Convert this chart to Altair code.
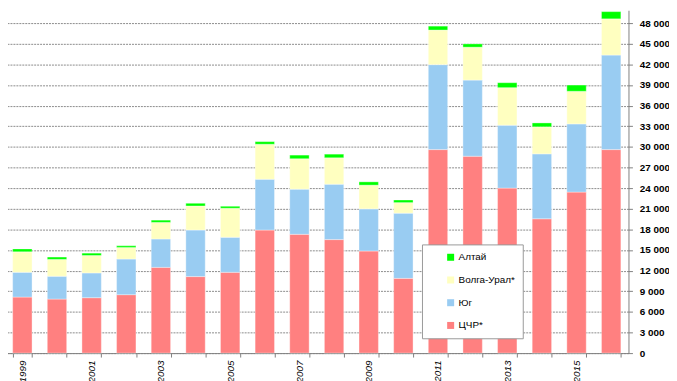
import altair as alt
import pandas as pd

years = list(range(1999, 2017))
series = ["ЦЧР*", "Юг", "Волга-Урал*", "Алтай"]
cchr = [8150, 7860, 8060, 8500, 12470, 11130, 11750, 17900, 17280, 16510, 14850, 10870, 29600, 28640, 24000, 19540, 23420, 29600]
yug = [3600, 3320, 3600, 5180, 4130, 6770, 5100, 7390, 6570, 8060, 6130, 9490, 12360, 11070, 9150, 9440, 9920, 13750]
volga = [2980, 2450, 2540, 1670, 2410, 3500, 4220, 5090, 4420, 3840, 3450, 1530, 5030, 4790, 5460, 3930, 4740, 5270]
altai = [430, 340, 340, 250, 330, 390, 290, 380, 530, 530, 480, 380, 570, 480, 720, 570, 910, 1050]
colors = ["#FF8080", "#99CCF2", "#FFFFC0", "#00FF00"]
y_ticks = list(range(0, 48001, 3000))

rows = []
for vals, name, order in zip([cchr, yug, volga, altai], series, range(4)):
    for yr, v in zip(years, vals):
        rows.append({"year": str(yr), "series": name, "value": v, "ord": order})
df = pd.DataFrame(rows)

chart = alt.Chart(df).mark_bar(stroke="white", strokeWidth=0.6, strokeOpacity=0.6).encode(
    x=alt.X("year:N", sort=[str(y) for y in years],
            scale=alt.Scale(paddingInner=0.44, paddingOuter=0.22),
            axis=alt.Axis(title=None, labelAngle=-90, labelAlign="right", labelBaseline="middle",
                          labelExpr="(toNumber(datum.value) - 1999) % 2 == 0 ? datum.value : ''",
                          labelFont="Liberation Sans", labelFontSize=10, labelFontStyle="italic",
                          labelColor="#000", labelPadding=3,
                          tickBand="extent", tickSize=4, tickColor="#808080",
                          domainColor="#808080", grid=False)),
    y=alt.Y("value:Q", stack="zero",
            scale=alt.Scale(domain=[0, 49870], nice=False),
            axis=alt.Axis(title=None, orient="right", values=y_ticks,
                          labelExpr="replace(format(datum.value, ','), ',', ' ')",
                          labelFont="Liberation Sans", labelFontSize=10, labelFontWeight="bold",
                          labelColor="#000", labelPadding=7,
                          tickSize=4, tickColor="#808080", domainColor="#808080",
                          grid=True, gridColor="#8a8a8a", gridDash=[2, 1], gridWidth=1)),
    color=alt.Color("series:N", scale=alt.Scale(domain=series, range=colors),
                    sort=list(reversed(series)),
                    legend=alt.Legend(title=None, orient="none", legendX=422, legendY=237,
                                      values=list(reversed(series)),
                                      fillColor="white", strokeColor="#999999",
                                      padding=8, symbolOffset=16, symbolType="square",
                                      symbolSize=50, symbolStrokeWidth=0,
                                      labelFont="Liberation Sans", labelFontSize=10,
                                      rowPadding=13, labelOffset=3)),
    order=alt.Order("ord:Q", sort="ascending"),
).properties(
    width=631, height=347,
    autosize=alt.AutoSizeParams(type="none"),
    padding={"left": -3, "top": 0, "right": 41, "bottom": 30},
).configure_view(stroke=None)

chart.save("out.html", embed_options={"renderer": "svg", "actions": False})
